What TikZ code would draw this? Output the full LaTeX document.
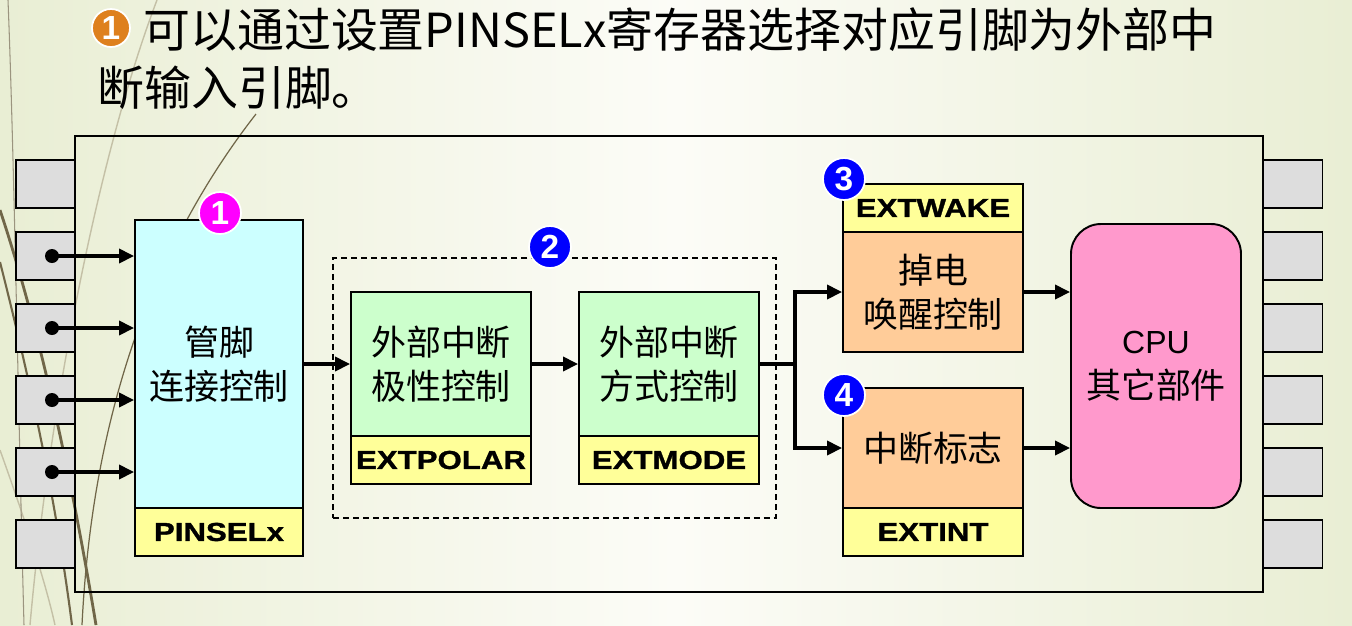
\documentclass[tikz,border=0pt]{standalone}
\usepackage{fontspec}
\setmainfont{Liberation Sans}
\newfontfamily\cjk{Noto Sans CJK SC}
\newfontfamily\lblfont{Liberation Sans}[FakeStretch=1.2,FakeBold=1.2]
\usepackage{tikz}
\usetikzlibrary{positioning,calc,arrows.meta}
\definecolor{bgside}{RGB}{233,238,212}
\definecolor{bgmid}{RGB}{252,252,247}
\definecolor{deco}{RGB}{112,102,72}
\definecolor{decolt}{RGB}{196,192,166}
\definecolor{pingray}{RGB}{221,221,221}
\definecolor{pincyan}{RGB}{204,255,255}
\definecolor{extgreen}{RGB}{204,255,204}
\definecolor{lblyellow}{RGB}{255,255,153}
\definecolor{wakeorange}{RGB}{255,204,153}
\definecolor{cpupink}{RGB}{255,153,204}
\definecolor{badgeorange}{RGB}{222,128,30}
\definecolor{badgeblue}{RGB}{0,0,255}
\definecolor{badgemag}{RGB}{255,0,255}
\tikzset{
  wire/.style    = {line width=1.9pt},
  arr/.style     = {line width=1.9pt, -{Triangle[length=8.5pt,width=8pt]}},
  bdot/.style    = {circle, fill=black, inner sep=0pt, minimum size=2.8mm},
  pin/.style     = {draw, fill=pingray, line width=1.1pt, inner sep=0pt,
                    minimum width=11.8mm, minimum height=9.6mm},
  body/.style    = {draw, line width=1.1pt, inner sep=0pt, minimum width=36mm,
                    align=center, font=\cjk\fontsize{19.9pt}{25pt}\selectfont},
  lbl/.style     = {draw, fill=lblyellow, line width=1.1pt, inner sep=0pt,
                    minimum width=36mm, minimum height=9.6mm,
                    font=\lblfont\bfseries\fontsize{14.8pt}{16pt}\selectfont},
  badge/.style   = {circle, draw=white, line width=1pt, inner sep=0pt,
                    minimum size=8.4mm, text=white,
                    font=\bfseries\fontsize{19pt}{19pt}\selectfont},
  grp/.style     = {draw, line width=0.7pt, dash pattern=on 3.4pt off 2.3pt,
                    inner sep=0pt},
  head/.style    = {inner sep=0pt, font=\cjk\fontsize{26.7pt}{30pt}\selectfont},
}
\begin{document}
\begin{tikzpicture}[x=0.2mm,y=-0.2mm]
  \useasboundingbox (0,0) rectangle (1352,625);
  % slide background and its sweeping lines
  \shade[left color=bgside, right color=bgside, middle color=bgmid]
    (0,0) rectangle (1352,625);
  \draw[decolt, line width=0.8pt] (157,0) .. controls (100,150) and (50,400) .. (30,625);
  \draw[decolt, line width=0.8pt] (0,450) .. controls (25,520) and (45,580) .. (55,625);
  \draw[deco!70, line width=0.6pt] (8,0) .. controls (14,150) and (18,400) .. (24,625);
  \draw[deco, line width=1.6pt] (0,210) .. controls (40,330) and (72,480) .. (96,625);
  \draw[deco, line width=1.2pt] (0,262) .. controls (30,380) and (56,500) .. (72,625);
  \draw[deco, line width=0.7pt] (256,114) .. controls (150,250) and (92,420) .. (82,625);

  % step 0: the heading
  \node[badge, fill=badgeorange, minimum size=7.6mm] (hb) at (111,28) {1};
  \node[head, anchor=west] (t1) at (143,30) {可以通过设置PINSELx寄存器选择对应引脚为外部中};
  \node[head, anchor=west] (t2) at (97,88) {断输入引脚。};

  % step 1: chip outline and its pins
  \node[draw, line width=1.1pt, minimum width=237.6mm, minimum height=91.2mm,
        inner sep=0pt] (chip) at (669,364) {};
  \foreach \i in {0,...,5} {
    \node[pin] (lp\i) at (45.5,{184+72*\i}) {};
    \node[pin] (rp\i) at (1293,{184+72*\i}) {};
  }

  % step 2: pin connection block
  \node[body, fill=pincyan, minimum width=33.6mm, minimum height=57.6mm]
    (pinbody) at (219,364) {管脚\\连接控制};
  \node[lbl, minimum width=33.6mm] (pinlbl) at (219,532) {PINSELx};
  \foreach \i in {1,...,4} {
    \node[bdot] (d\i) at (52,{184+72*\i}) {};
    \draw[arr] (d\i.center) -- (d\i.center -| pinbody.west);
  }

  % step 3: polarity and mode, grouped
  \node[grp, minimum width=88.6mm, minimum height=52mm] (grp) at (554.5,388) {};
  \node[body, fill=extgreen, minimum height=28.8mm] (polbody) at (441,364) {外部中断\\极性控制};
  \node[lbl] (pollbl) at (441,460) {EXTPOLAR};
  \node[body, fill=extgreen, minimum height=28.8mm] (modbody) at (669,364) {外部中断\\方式控制};
  \node[lbl] (modlbl) at (669,460) {EXTMODE};
  \draw[arr] (pinbody) -- (polbody);
  \draw[arr] (polbody) -- (modbody);

  % step 4: wake-up and flag
  \node[lbl] (wakelbl) at (933,208) {EXTWAKE};
  \node[body, fill=wakeorange, minimum height=24mm] (wakebody) at (933,292) {掉电\\唤醒控制};
  \node[body, fill=wakeorange, minimum height=24mm] (intbody) at (933,448) {中断标志};
  \node[lbl] (intlbl) at (933,532) {EXTINT};
  \coordinate (br) at (795,364);
  \draw[wire] (modbody.east) -- (br);
  \draw[arr] (br) |- (wakebody.west);
  \draw[arr] (br) |- (intbody.west);

  % step 5: CPU
  \node[draw, fill=cpupink, line width=1.1pt, rounded corners=6mm, inner sep=0pt,
        minimum width=34mm, minimum height=56.8mm, align=center,
        font=\fontsize{18.2pt}{25.6pt}\selectfont] (cpu) at (1156,366)
        {CPU\\{\cjk\fontsize{19.9pt}{25.6pt}\selectfont 其它部件}};
  \draw[arr] (wakebody.east) -- (wakebody.east -| cpu.west);
  \draw[arr] (intbody.east) -- (intbody.east -| cpu.west);

  % step 6: numbered marks
  \node[badge, fill=badgemag] (b1) at (220,213) {1};
  \node[badge, fill=badgeblue] (b2) at (550,247) {2};
  \node[badge, fill=badgeblue] (b3) at (844,179) {3};
  \node[badge, fill=badgeblue] (b4) at (844,395) {4};
\end{tikzpicture}
\end{document}
